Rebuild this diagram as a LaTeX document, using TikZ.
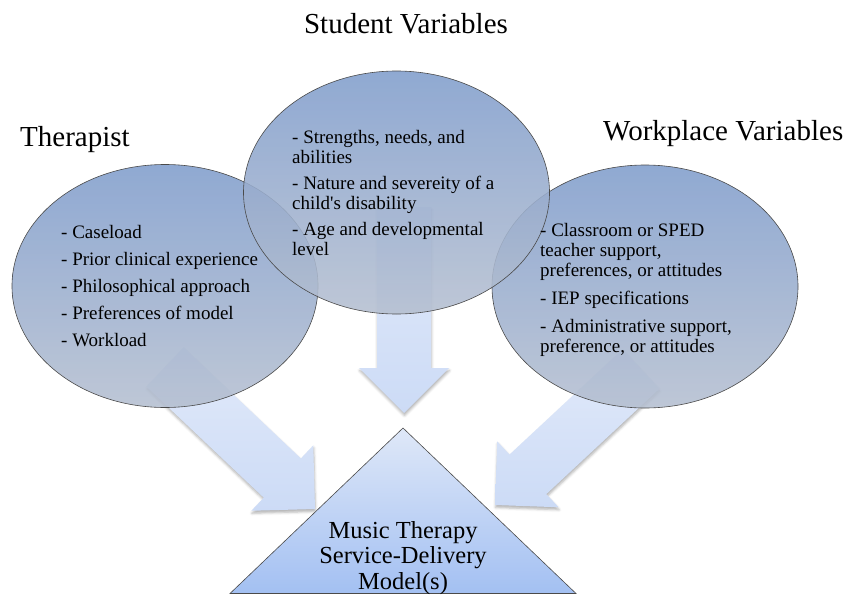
\documentclass[tikz,border=0pt]{standalone}
\usepackage{fontspec}
\setmainfont{Liberation Serif}
\usetikzlibrary{calc,shapes.geometric,shadows.blur}

\definecolor{ovalTop}{HTML}{809DCC}
\definecolor{ovalBot}{HTML}{B5BFD0}
\definecolor{arrTop}{HTML}{E2EAFA}
\definecolor{arrBot}{HTML}{CCDBF6}
\definecolor{triTop}{HTML}{DFE8F8}
\definecolor{triBot}{HTML}{A3C0F2}
\definecolor{edgeGrey}{HTML}{4A4A4A}

\tikzset{
  oval/.style={ellipse, draw=edgeGrey, line width=0.6pt, top color=ovalTop,
    bottom color=ovalBot, fill opacity=0.88, minimum width=306pt,
    minimum height=243pt, inner sep=0pt},
  blockarrow/.style={top color=arrTop, bottom color=arrBot,
    blur shadow={shadow xshift=0.5pt, shadow yshift=-2.5pt,
      shadow blur radius=2.5pt, shadow opacity=30}},
  tri/.style={draw=edgeGrey, line width=0.6pt, top color=triTop, bottom color=triBot},
  heading/.style={font=\fontsize{29}{32}\selectfont, inner sep=0pt, anchor=base},
  items/.style={font=\fontsize{19}{20}\selectfont, align=left, inner sep=0pt,
    anchor=north west},
  modeltext/.style={font=\fontsize{24.5}{25.7}\selectfont, align=center,
    inner sep=0pt, anchor=north},
}

% broad block arrow from a tail point to a tip point
\newcommand\blockarr[2]{%
  \coordinate (#2-hb) at ($(#2)!45pt!(#1)$);
  \path[blockarrow]
    ($(#1)!27pt!90:(#2)$) -- ($(#2-hb)!27pt!90:(#2)$) --
    ($(#2-hb)!45pt!90:(#2)$) -- (#2) --
    ($(#2-hb)!45pt!-90:(#2)$) -- ($(#2-hb)!27pt!-90:(#2)$) --
    ($(#1)!27pt!-90:(#2)$) -- cycle;
}

\begin{document}
\begin{tikzpicture}[x=1pt, y=-1pt]
  \useasboundingbox (0,0) rectangle (853,594);

  % arrow ends
  \coordinate (therTail) at (165,367);
  \coordinate (therTip)  at (315,509);
  \coordinate (studTail) at (404,207);
  \coordinate (studTip)  at (404,413);
  \coordinate (workTail) at (641,369);
  \coordinate (workTip)  at (495,505);

  % arrows towards the model
  \blockarr{therTail}{therTip}
  \blockarr{studTail}{studTip}
  \blockarr{workTail}{workTip}

  % the three groups of variables
  \node[oval] (ther) at (165,286) {};
  \node[oval] (work) at (645,286.5) {};
  \node[oval] (stud) at (396.5,192.5) {};

  \node[items] (therItems) at (61,225) {%
    - Caseload\\[7pt]%
    - Prior clinical experience\\[7pt]%
    - Philosophical approach\\[7pt]%
    - Preferences of model\\[7pt]%
    - Workload};

  \node[items] (studItems) at (292,130) {%
    - Strengths, needs, and\\%
    abilities\\[6pt]%
    - Nature and severeity of a\\%
    child\textquotesingle s disability\\[6pt]%
    - Age and developmental\\%
    level};

  \node[items] (workItems) at (540,223) {%
    - Classroom or SPED\\%
    teacher support,\\%
    preferences, or attitudes\\[8pt]%
    - IEP specifications\\[8pt]%
    - Administrative support,\\%
    preference, or attitudes};

  % headings
  \node[heading] (studHead) at (406,34) {Student Variables};
  \node[heading, anchor=base west] (therHead) at (20,146.5) {Therapist};
  \node[heading, anchor=base west] (workHead) at (603,140) {Workplace Variables};

  % the resulting model
  \coordinate (apex) at (403,428);
  \coordinate (baseR) at (576,593.5);
  \coordinate (baseL) at (230,593.5);
  \path[tri] (apex) -- (baseR) -- (baseL) -- cycle;
  \node[modeltext] (model) at (403,521) {Music Therapy\\Service-Delivery\\Model(s)};
\end{tikzpicture}
\end{document}
